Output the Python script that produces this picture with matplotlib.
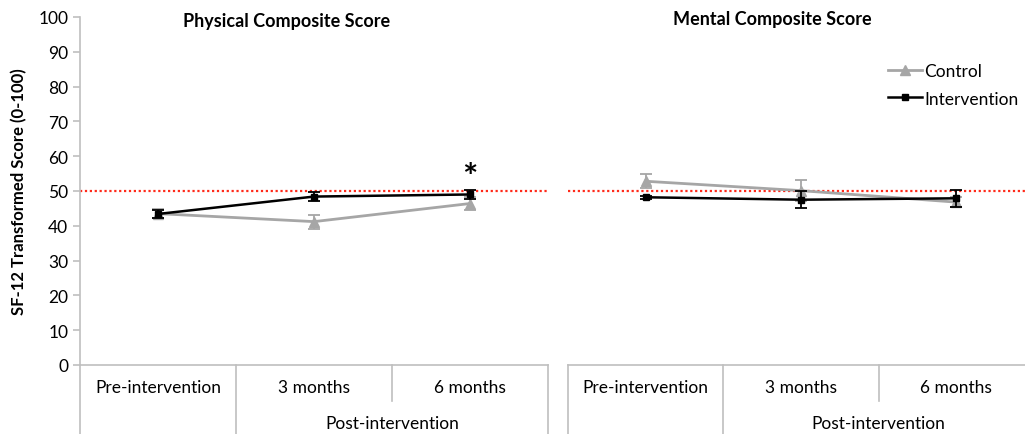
import matplotlib.pyplot as plt
from matplotlib.lines import Line2D
import numpy as np

plt.rcParams['font.family'] = ['Lato', 'DejaVu Sans']

# Data
timepoints = ['Pre-intervention', '3 months', '6 months']
group_label = 'Post-intervention'

phys_control = [43.5, 41.2, 46.4]
phys_control_err = [1.3, 2.0, 1.9]
phys_interv = [43.4, 48.4, 49.0]
phys_interv_err = [1.2, 1.4, 1.3]

ment_control = [52.8, 50.1, 46.8]
ment_control_err = [2.0, 3.0, 1.5]
ment_interv = [48.2, 47.5, 47.9]
ment_interv_err = [0.5, 2.5, 2.4]

norm_value = 50
yticks = np.arange(0, 101, 10)

W, H = 1025, 435
fig = plt.figure(figsize=(W / 100, H / 100), dpi=100)

def px_axes(x0, x1, y0, y1):
    return fig.add_axes([x0 / W, 1 - y1 / H, (x1 - x0) / W, (y1 - y0) / H])

ax1 = px_axes(80, 548, 18, 366)
ax2 = px_axes(568, 1034, 18, 366)

grey = '#BFBFBF'
ctl_color = '#A6A6A6'
fs = 12.5
x = np.arange(len(timepoints))

for ax, ctl, ctl_e, itv, itv_e in [(ax1, phys_control, phys_control_err, phys_interv, phys_interv_err),
                                   (ax2, ment_control, ment_control_err, ment_interv, ment_interv_err)]:
    ax.axhline(norm_value, color='#FF2A1A', ls=(0, (1, 1.2)), lw=1.6, zorder=1)
    ax.errorbar(x, ctl, yerr=ctl_e, color=ctl_color, marker='^', ms=7, lw=2,
                capsize=4, capthick=1.3, elinewidth=1.3, zorder=2)
    ax.errorbar(x, itv, yerr=itv_e, color='black', marker='s', ms=4.5, lw=1.8,
                capsize=4, capthick=1.3, elinewidth=1.3, zorder=3)
    ax.set_xlim(-0.5, 2.5)
    ax.set_ylim(0, 100)
    for s in ['top', 'right', 'left']:
        ax.spines[s].set_visible(False)
    ax.spines['bottom'].set_color(grey)
    ax.spines['bottom'].set_linewidth(1.2)
    ax.set_xticks([])

    # multi-level category axis
    tr = ax.get_xaxis_transform()
    bottom = -69 / 348
    mid = -36 / 348
    for xv, yb in [(-0.5, bottom), (0.5, bottom), (1.5, mid), (2.5, bottom)]:
        ax.plot([xv, xv], [0, yb], color=grey, lw=1.2, transform=tr, clip_on=False)
    for xv, lab in zip(x, timepoints):
        ax.text(xv, -22 / 348, lab, transform=tr, ha='center', va='center', fontsize=fs)
    ax.text(1.5, -58 / 348, group_label, transform=tr, ha='center', va='center', fontsize=fs)

ax1.spines['left'].set_visible(True)
ax1.spines['left'].set_color(grey)
ax1.spines['left'].set_linewidth(1.2)
ax1.set_yticks(yticks)
ax1.tick_params(axis='y', color=grey, length=5, width=1.2, labelsize=fs)
ax1.set_ylabel('SF-12 Transformed Score (0-100)', fontsize=12, fontweight='bold', labelpad=8)
ax2.set_yticks([])

ax1.text(2, phys_interv[2] + 5, '*', ha='center', va='center', fontsize=26, fontweight='bold')

fig.text(287 / W, 1 - 22 / H, 'Physical Composite Score', ha='center', va='center',
         fontsize=13, fontweight='bold')
fig.text(772 / W, 1 - 20 / H, 'Mental Composite Score', ha='center', va='center',
         fontsize=13, fontweight='bold')

handles = [Line2D([], [], color=ctl_color, marker='^', ms=7, lw=2),
           Line2D([], [], color='black', marker='s', ms=4, lw=1.8)]
ax2.legend(handles, ['Control', 'Intervention'], loc='upper left',
           bbox_to_anchor=((872 - 568) / 466, 0.912), frameon=False,
           fontsize=fs, handlelength=2.0, handletextpad=0.1, labelspacing=0.65)

fig.savefig('out.png', dpi=100)
